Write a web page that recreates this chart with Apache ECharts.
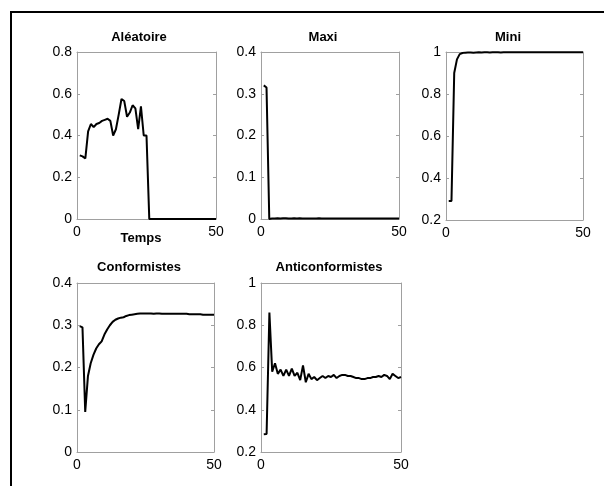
<!DOCTYPE html>
<html>
<head>
<meta charset="utf-8">
<script src="https://cdn.jsdelivr.net/npm/echarts@6/dist/echarts.min.js"></script>
<style>
html,body{margin:0;padding:0;background:#fff;}
#c{width:604px;height:486px;}
</style>
</head>
<body>
<div id="c"></div>
<script>
// time steps
var t = [];
for (var i = 1; i <= 50; i++) t.push(i);

var titles = ['Aléatoire', 'Maxi', 'Mini', 'Conformistes', 'Anticonformistes'];

var aleatoire = [0.305,0.30,0.29,0.42,0.455,0.44,0.455,0.46,0.47,0.475,0.48,0.47,0.40,0.43,0.50,0.575,0.565,0.49,0.51,0.545,0.53,0.43,0.54,0.40,0.40,0,0,0,0,0,0,0,0,0,0,0,0,0,0,0,0,0,0,0,0,0,0,0,0,0];
var maxi = [0.32,0.315,0,0.001,0.001,0.002,0.001,0.002,0.002,0.001,0.001,0.002,0.001,0.002,0.001,0.001,0.001,0.001,0.001,0.001,0.002,0.001,0.001,0.001,0.001,0.001,0.001,0.001,0.001,0.001,0.001,0.001,0.001,0.001,0.001,0.001,0.001,0.001,0.001,0.001,0.001,0.001,0.001,0.001,0.001,0.001,0.001,0.001,0.001,0.001];
var mini = [0.29,0.29,0.90,0.965,0.99,0.995,0.997,0.998,0.998,0.997,0.998,0.999,0.998,0.999,0.999,0.998,0.999,0.999,0.999,0.998,0.999,0.999,0.999,0.999,0.999,0.999,0.999,0.999,0.999,0.999,0.999,0.999,0.999,0.999,0.999,0.999,0.999,0.999,0.999,0.999,0.999,0.999,0.999,0.999,0.999,0.999,0.999,0.999,0.999,0.999];
var conformistes = [0.298,0.295,0.095,0.18,0.21,0.23,0.245,0.255,0.262,0.278,0.29,0.30,0.308,0.313,0.316,0.318,0.319,0.322,0.324,0.325,0.326,0.327,0.328,0.328,0.328,0.328,0.328,0.327,0.328,0.328,0.327,0.327,0.327,0.327,0.327,0.327,0.327,0.327,0.327,0.327,0.326,0.326,0.326,0.326,0.326,0.325,0.325,0.325,0.325,0.325];
var anticonformistes = [0.284,0.285,0.86,0.58,0.62,0.57,0.59,0.56,0.59,0.56,0.595,0.56,0.575,0.54,0.61,0.53,0.57,0.545,0.555,0.54,0.55,0.56,0.55,0.56,0.555,0.565,0.55,0.56,0.565,0.565,0.56,0.56,0.555,0.55,0.55,0.545,0.545,0.55,0.55,0.555,0.555,0.56,0.555,0.565,0.56,0.545,0.57,0.56,0.55,0.555];

var seriesData = [aleatoire, maxi, mini, conformistes, anticonformistes];
var yMin = [0, 0, 0.2, 0, 0.2];
var yMax = [0.8, 0.4, 1, 0.4, 1];
var yStep = [0.2, 0.1, 0.2, 0.1, 0.2];
var xMin = 0, xMax = 50;

var grids = [
  {left: 77, top: 52, width: 139, height: 167},
  {left: 261, top: 52, width: 138, height: 167},
  {left: 446, top: 52, width: 137, height: 168},
  {left: 77, top: 283, width: 137, height: 169},
  {left: 261, top: 283, width: 140, height: 169}
];
var titlePos = [[139, 37], [323, 37], [508, 37], [139, 267], [329, 267]];

var boxColor = '#a0a0a0';
var font = 'Liberation Sans, Arial, Helvetica, sans-serif';

var xAxes = [], yAxes = [], series = [], graphics = [];
grids.forEach(function (g, k) {
  xAxes.push({
    gridIndex: k, type: 'value', min: xMin, max: xMax, interval: 50, position: 'bottom',
    axisLine: {show: true, onZero: false, lineStyle: {color: boxColor, width: 1}},
    axisTick: {show: false}, splitLine: {show: false},
    axisLabel: {show: true, showMinLabel: true, showMaxLabel: true, color: '#000', fontSize: 14, fontFamily: font, margin: 6}
  });
  xAxes.push({
    gridIndex: k, type: 'value', min: xMin, max: xMax, interval: 50, position: 'top',
    axisLine: {show: true, onZero: false, lineStyle: {color: boxColor, width: 1}},
    axisTick: {show: false}, splitLine: {show: false}, axisLabel: {show: false}
  });
  yAxes.push({
    gridIndex: k, type: 'value', min: yMin[k], max: yMax[k], interval: yStep[k], position: 'left',
    axisLine: {show: true, onZero: false, lineStyle: {color: boxColor, width: 1}},
    axisTick: {show: true, inside: true, length: 3, lineStyle: {color: boxColor}},
    splitLine: {show: false},
    axisLabel: {show: true, showMinLabel: true, showMaxLabel: true, color: '#000', fontSize: 14, fontFamily: font, margin: 5}
  });
  yAxes.push({
    gridIndex: k, type: 'value', min: yMin[k], max: yMax[k], interval: yStep[k], position: 'right',
    axisLine: {show: true, onZero: false, lineStyle: {color: boxColor, width: 1}},
    axisTick: {show: true, inside: true, length: 3, lineStyle: {color: boxColor}},
    splitLine: {show: false}, axisLabel: {show: false}
  });
  series.push({
    type: 'line', xAxisIndex: 2 * k, yAxisIndex: 2 * k, symbol: 'none', animation: false,
    lineStyle: {color: '#000', width: 2},
    data: t.map(function (x, i) { return [x, seriesData[k][i]]; })
  });
  graphics.push({
    type: 'text', x: titlePos[k][0], y: titlePos[k][1],
    style: {text: titles[k], fill: '#000', font: 'bold 13px ' + font, textAlign: 'center', textVerticalAlign: 'middle'}
  });
});

graphics.push({
  type: 'text', x: 141, y: 238,
  style: {text: 'Temps', fill: '#000', font: 'bold 13px ' + font, textAlign: 'center', textVerticalAlign: 'middle'}
});
graphics.push({type: 'line', shape: {x1: 10, y1: 12, x2: 604, y2: 12}, style: {stroke: '#000', lineWidth: 2}});
graphics.push({type: 'line', shape: {x1: 11, y1: 12, x2: 11, y2: 486}, style: {stroke: '#000', lineWidth: 2}});

var chart = echarts.init(document.getElementById('c'), null, {renderer: 'canvas'});
chart.setOption({
  animation: false,
  backgroundColor: '#fff',
  grid: grids,
  xAxis: xAxes,
  yAxis: yAxes,
  series: series,
  graphic: graphics
});
</script>
</body>
</html>
